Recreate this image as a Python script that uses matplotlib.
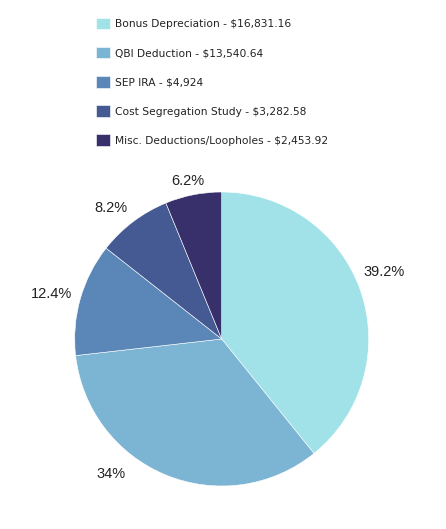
import matplotlib
matplotlib.use("Agg")
import matplotlib.pyplot as plt
import numpy as np

categories = ["Bonus Depreciation", "QBI Deduction", "SEP IRA",
              "Cost Segregation Study", "Misc. Deductions/Loopholes"]
amounts = ["$16,831.16", "$13,540.64", "$4,924", "$3,282.58", "$2,453.92"]
shares = [39.2, 34, 12.4, 8.2, 6.2]
pct_labels = ["39.2%", "34%", "12.4%", "8.2%", "6.2%"]
colors = ["#a0e2e8", "#7cb4d3", "#5b87b8", "#455a93", "#38306b"]

W, H = 446, 529
fig = plt.figure(figsize=(W / 100, H / 100), dpi=100)
cx, cy, r = 221.7, 339, 147
ax = fig.add_axes([(cx - r) / W, (H - cy - r) / H, 2 * r / W, 2 * r / H])
wedges, _ = ax.pie(shares, colors=colors, startangle=90, counterclock=False,
                   radius=1, wedgeprops=dict(edgecolor="white", linewidth=0.4))
ax.set_xlim(-1, 1)
ax.set_ylim(-1, 1)
ax.set_aspect("equal")
ax.axis("off")

# label placement tweaks (angle shift in degrees, radial distance in radii)
angle_shift = [3, -17, 1, 3, 1]
label_dist = [1.197, 1.19, 1.2, 1.167, 1.10]
total = sum(shares)
start = 90.0
for s, lab, da, d in zip(shares, pct_labels, angle_shift, label_dist):
    ang = start - s / total * 360 / 2 + da
    start -= s / total * 360
    a = np.deg2rad(ang)
    ax.text(d * np.cos(a), d * np.sin(a), lab, ha="center", va="center",
            fontsize=10.5, family="Liberation Sans", color="#222222")

leg_labels = [f"{c} - {a}" for c, a in zip(categories, amounts)]
fig.legend(wedges, leg_labels, loc="upper left",
           bbox_to_anchor=(86 / W, 1 - 8 / H), frameon=False,
           prop=dict(family="DejaVu Sans", size=7.7),
           handlelength=1.3, handleheight=1.3, handletextpad=0.55,
           labelspacing=1.64, labelcolor="#222222")

fig.savefig("out.png", dpi=100, facecolor="white")
